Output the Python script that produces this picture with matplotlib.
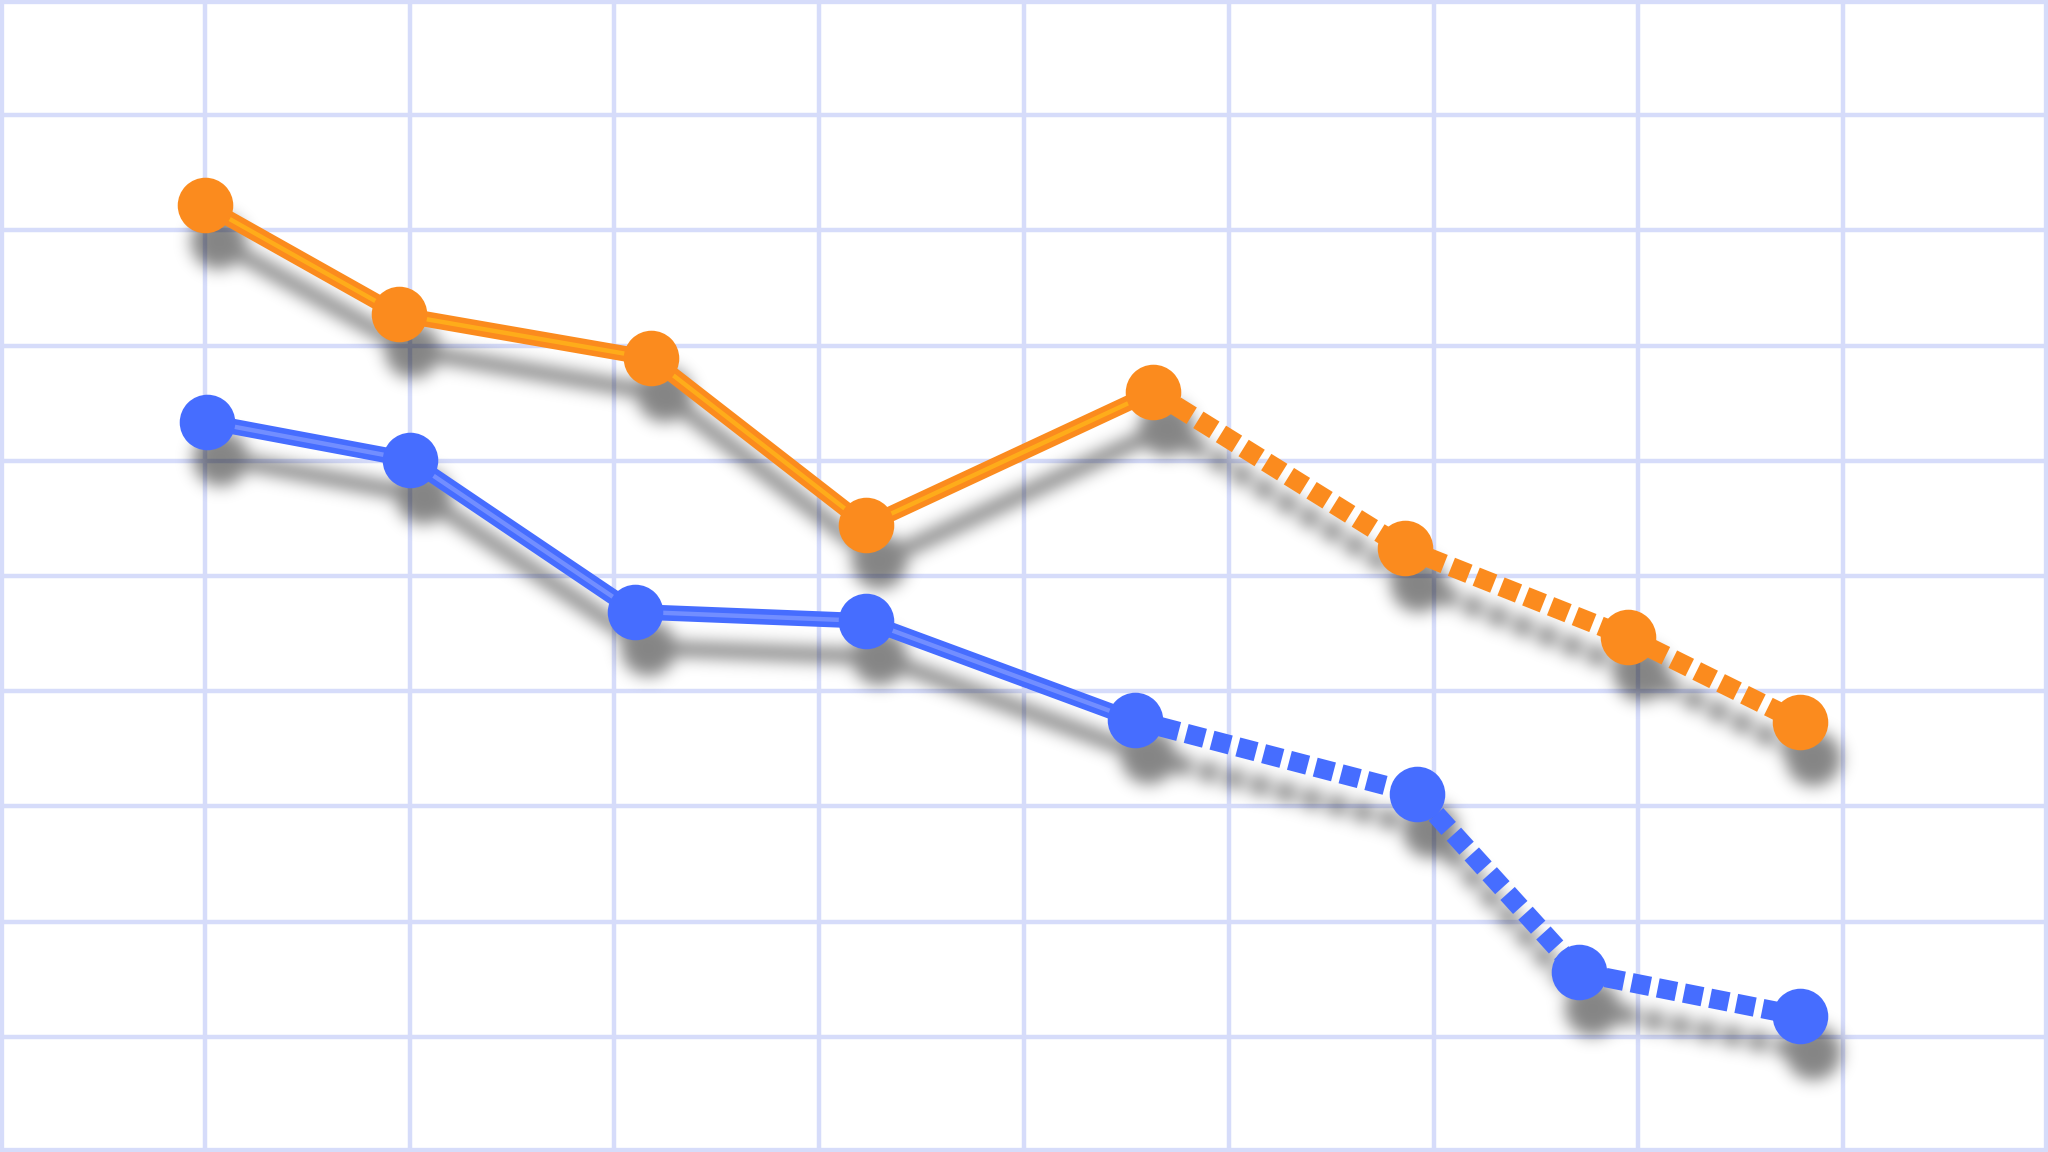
import matplotlib
matplotlib.use('Agg')
import matplotlib.pyplot as plt
import numpy as np

plt.rcParams['lines.scale_dashes'] = False

# valores (eixos 0-10 nos dois sentidos)
x_laranja = [1.0, 1.95, 3.18, 4.23, 5.63, 6.86, 7.95, 8.79]
y_laranja = [8.22, 7.27, 6.89, 5.44, 6.60, 5.24, 4.47, 3.73]
x_azul = [1.01, 2.0, 3.10, 4.23, 5.54, 6.92, 7.71, 8.79]
y_azul = [6.34, 6.01, 4.69, 4.61, 3.75, 3.11, 1.56, 1.18]
corte = 4  # último ponto da parte sólida

cor_laranja = '#fb8b1e'
brilho_laranja = '#ffb01a'
cor_azul = '#466dff'
brilho_azul = '#7892ff'
cor_grade = '#d6dcfa'

LARG, ALT, DPI = 10.24, 5.76, 200


def preparar_eixo(fig):
    ax = fig.add_axes([0, 0, 1, 1])
    ax.set_xlim(0, 10)
    ax.set_ylim(0, 10)
    return ax


def desenhar_serie(ax, x, y, cor, brilho=None):
    ax.plot(x[:corte+1], y[:corte+1], color=cor, linewidth=5.6,
            solid_capstyle='round', solid_joinstyle='round', zorder=3)
    if brilho:
        ax.plot(x[:corte+1], y[:corte+1], color=brilho, linewidth=1.6, alpha=0.9,
                solid_capstyle='round', solid_joinstyle='round', zorder=3)
    ax.plot(x[corte:], y[corte:], color=cor, linewidth=7.0,
            dashes=(6.8, 2.8), dash_capstyle='butt', zorder=3)
    ax.plot(x, y, linestyle='none', marker='o', markersize=20, markeredgewidth=0,
            color=cor, zorder=4)


def borrar(img, sigma):
    r = int(3*sigma)
    k = np.exp(-0.5*(np.arange(-r, r+1)/sigma)**2)
    k /= k.sum()
    img = np.apply_along_axis(lambda v: np.convolve(v, k, mode='same'), 1, img)
    img = np.apply_along_axis(lambda v: np.convolve(v, k, mode='same'), 0, img)
    return img


# sombra: desenha as séries em preto numa figura separada e borra
fig_s = plt.figure(figsize=(LARG, ALT), dpi=DPI)
ax_s = preparar_eixo(fig_s)
ax_s.axis('off')
desenhar_serie(ax_s, x_laranja, y_laranja, 'black')
desenhar_serie(ax_s, x_azul, y_azul, 'black')
fig_s.canvas.draw()
buf = np.asarray(fig_s.canvas.buffer_rgba()).astype(float)
mascara = 1 - buf[..., 0]/255
plt.close(fig_s)
mascara = borrar(mascara, 8)
sombra = np.zeros(mascara.shape + (4,))
sombra[..., 3] = np.clip(mascara*0.48, 0, 1)

fig = plt.figure(figsize=(LARG, ALT), dpi=DPI)
ax = preparar_eixo(fig)
ax.set_xticks(range(0, 11))
ax.set_yticks(range(0, 11))
ax.grid(True, color=cor_grade, linewidth=1.6, zorder=0)
ax.set_axisbelow(True)
ax.tick_params(length=0, labelbottom=False, labelleft=False)
for s in ax.spines.values():
    s.set_color(cor_grade)
    s.set_linewidth(3)

dx = 13/2048*10
dy = 36/1152*10
ax.imshow(sombra, extent=[dx, 10+dx, -dy, 10-dy], origin='upper',
          interpolation='bilinear', aspect='auto', zorder=1)
ax.set_xlim(0, 10)
ax.set_ylim(0, 10)

desenhar_serie(ax, x_laranja, y_laranja, cor_laranja, brilho_laranja)
desenhar_serie(ax, x_azul, y_azul, cor_azul, brilho_azul)

fig.savefig('out.png', dpi=DPI, facecolor='white')
